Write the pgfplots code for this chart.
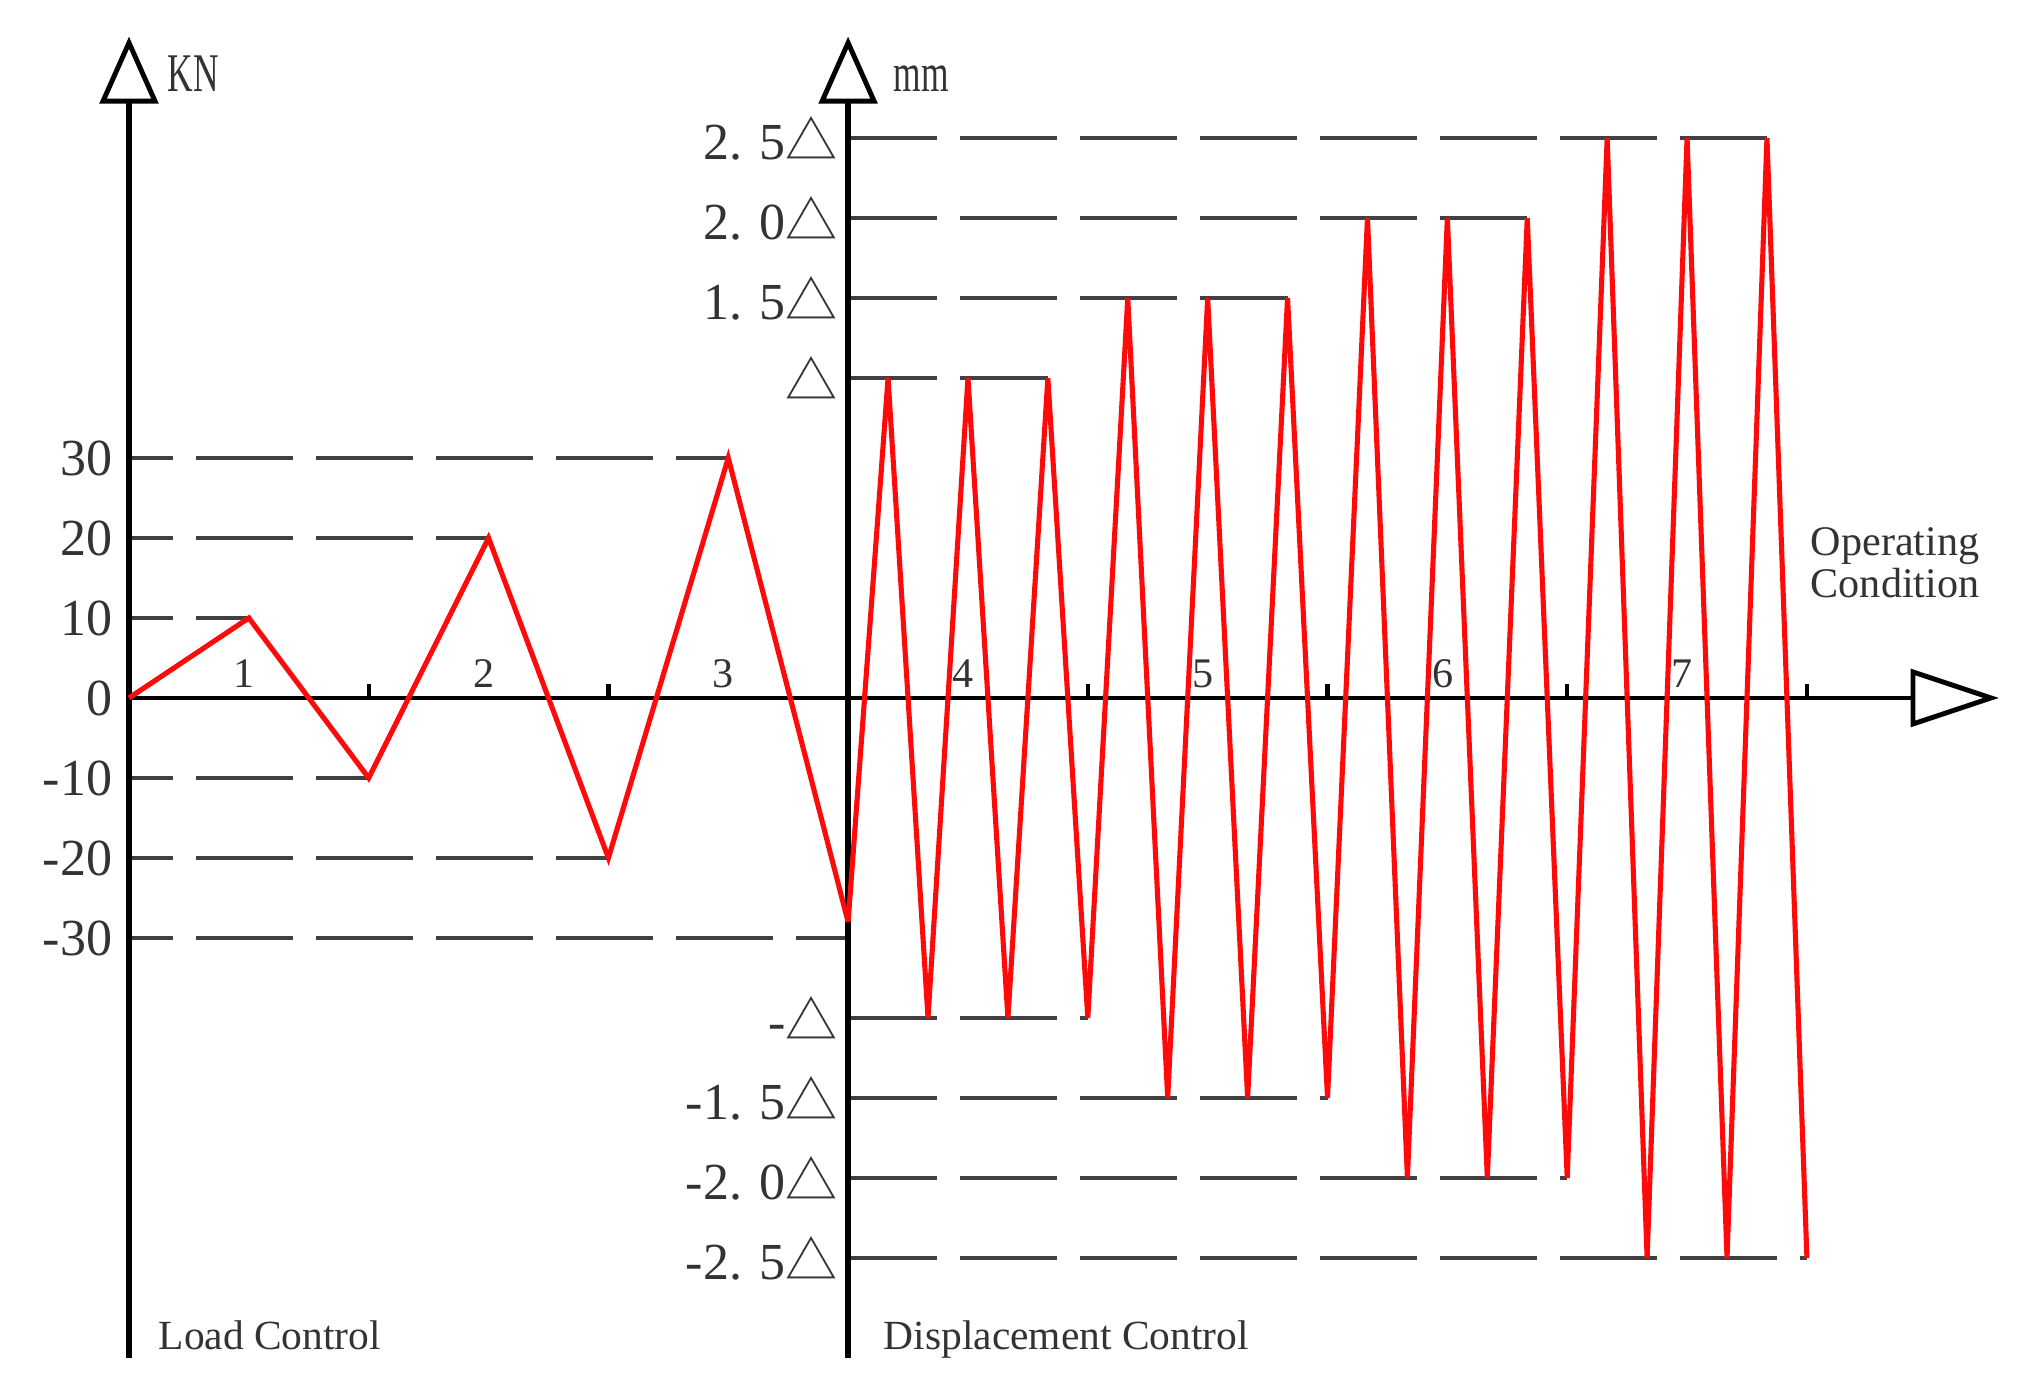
\documentclass[border=0pt]{standalone}
\usepackage{fontspec}
\setmainfont{Liberation Serif}
\newfontfamily\cjk{Noto Sans CJK SC}
\newfontfamily\cond{Liberation Serif}[FakeStretch=0.65]
\usepackage{pgfplots}
\pgfplotsset{compat=1.18}

\definecolor{guide}{HTML}{404040}
\definecolor{lbl}{HTML}{333333}
\definecolor{cycred}{HTML}{FF0A0A}

% x: one operating condition per unit, left axis at 0, right axis at 3
% y: kN; displacement levels drawn at 40 (D), 50 (1.5D), 60 (2.0D), 70 (2.5D)
\pgfplotsset{
  guideL/.style={color=guide, line width=1pt, dash pattern=on 9.7mm off 2.3mm, dash phase=5.3mm},
  guideR/.style={color=guide, line width=1pt, dash pattern=on 9.7mm off 2.3mm, dash phase=0.8mm},
}
\newcommand{\tri}{{\cjk △}}
\newcommand{\tickfont}{\fontsize{14.8}{15}\selectfont}

\begin{document}
\begin{tikzpicture}
\begin{axis}[
  width=202.4mm, height=138.6mm, scale only axis,
  xmin=-0.5382, xmax=7.9057, ymin=-86, ymax=87.25,
  hide axis, clip=false,
]
\coordinate (bl) at (rel axis cs:0,0);
\coordinate (tr) at (rel axis cs:1,1);

% guide lines, load control
\addplot[guideL] coordinates {(0,10) (0.5,10)};
\addplot[guideL] coordinates {(0,20) (1.5,20)};
\addplot[guideL] coordinates {(0,30) (2.5,30)};
\addplot[guideL] coordinates {(0,-10) (1,-10)};
\addplot[guideL] coordinates {(0,-20) (2,-20)};
\addplot[guideL] coordinates {(0,-30) (3,-30)};
% guide lines, displacement control
\addplot[guideR] coordinates {(3,40) (3.8333,40)};
\addplot[guideR] coordinates {(3,50) (4.8333,50)};
\addplot[guideR] coordinates {(3,60) (5.8333,60)};
\addplot[guideR] coordinates {(3,70) (6.8333,70)};
\addplot[guideR] coordinates {(3,-40) (4,-40)};
\addplot[guideR] coordinates {(3,-50) (5,-50)};
\addplot[guideR] coordinates {(3,-60) (6,-60)};
\addplot[guideR] coordinates {(3,-70) (7,-70)};

% axes
\draw[line width=1.7pt] (axis cs:0,-82.5) -- (axis cs:0,74.6);
\draw[line width=1.6pt] (axis cs:3,-82.5) -- (axis cs:3,74.6);
\draw[line width=1.4pt] (axis cs:0,0) -- (axis cs:7.4427,0);
\draw[line width=1.4pt, fill=white] (axis cs:-0.1085,74.6) -- (axis cs:0,81.9) -- (axis cs:0.1085,74.6) -- cycle;
\draw[line width=1.4pt, fill=white] (axis cs:2.8915,74.6) -- (axis cs:3,81.9) -- (axis cs:3.1085,74.6) -- cycle;
\draw[line width=1.4pt, fill=white] (axis cs:7.4427,3.25) -- (axis cs:7.768,0) -- (axis cs:7.4427,-3.25) -- cycle;
\draw[line width=1.2pt] (axis cs:1,0) -- (axis cs:1,1.75);
\draw[line width=1.2pt] (axis cs:2,0) -- (axis cs:2,1.75);
\draw[line width=1.2pt] (axis cs:4,0) -- (axis cs:4,1.75);
\draw[line width=1.2pt] (axis cs:5,0) -- (axis cs:5,1.75);
\draw[line width=1.2pt] (axis cs:6,0) -- (axis cs:6,1.75);
\draw[line width=1.2pt] (axis cs:7,0) -- (axis cs:7,1.75);

% load control
\addplot[color=cycred, line width=1.45pt] coordinates {
  (0,0) (0.5,10) (1,-10) (1.5,20) (2,-20) (2.5,30) (3,-28)
};
% displacement control
\addplot[color=cycred, line width=1.45pt] coordinates {
  (3,-28)
  (3.1667,40) (3.3333,-40) (3.5,40) (3.6667,-40) (3.8333,40) (4,-40)
  (4.1667,50) (4.3333,-50) (4.5,50) (4.6667,-50) (4.8333,50) (5,-50)
  (5.1667,60) (5.3333,-60) (5.5,60) (5.6667,-60) (5.8333,60) (6,-60)
  (6.1667,70) (6.3333,-70) (6.5,70) (6.6667,-70) (6.8333,70) (7,-70)
};

% left scale
\begin{scope}[every node/.style={anchor=east, inner sep=0pt, text=lbl, font=\tickfont, xshift=-1.6mm}]
\node at (axis cs:0,30) {30};
\node at (axis cs:0,20) {20};
\node at (axis cs:0,10) {10};
\node at (axis cs:0,0) {0};
\node at (axis cs:0,-10) {-10};
\node at (axis cs:0,-20) {-20};
\node at (axis cs:0,-30) {-30};
\end{scope}
% right scale
\begin{scope}[every node/.style={anchor=east, inner sep=0pt, text=lbl, font=\tickfont, xshift=-1.0mm}]
\node at (axis cs:3,70) {2. 5\tri};
\node at (axis cs:3,60) {2. 0\tri};
\node at (axis cs:3,50) {1. 5\tri};
\node at (axis cs:3,40) {\tri};
\node at (axis cs:3,-40) {-\tri};
\node at (axis cs:3,-50) {-1. 5\tri};
\node at (axis cs:3,-60) {-2. 0\tri};
\node at (axis cs:3,-70) {-2. 5\tri};
\end{scope}
% operating condition numbers
\begin{scope}[every node/.style={anchor=base, inner sep=0pt, text=lbl, font=\fontsize{12}{12}\selectfont}]
\node at (axis cs:0.48,1.25) {1};
\node at (axis cs:1.48,1.25) {2};
\node at (axis cs:2.48,1.25) {3};
\node at (axis cs:3.48,1.25) {4};
\node at (axis cs:4.48,1.25) {5};
\node at (axis cs:5.48,1.25) {6};
\node at (axis cs:6.48,1.25) {7};
\end{scope}

\node[anchor=base west, inner sep=0pt, text=lbl, font=\cond\fontsize{15.5}{16}\selectfont] at (axis cs:0.1585,75.75) {KN};
\node[anchor=base west, inner sep=0pt, text=lbl, font=\cond\fontsize{15.5}{16}\selectfont] at (axis cs:3.187,75.75) {mm};
\node[anchor=base west, inner sep=0pt, text=lbl, align=left, font=\fontsize{12}{10.2}\selectfont] at (axis cs:7.013,12.6) {Operating\\Condition};
\node[anchor=base west, inner sep=0pt, text=lbl, font=\fontsize{11.8}{12}\selectfont] at (axis cs:0.121,-81.4) {Load Control};
\node[anchor=base west, inner sep=0pt, text=lbl, font=\fontsize{11.8}{12}\selectfont] at (axis cs:3.146,-81.4) {Displacement Control};
\end{axis}
\pgfresetboundingbox
\path[use as bounding box] (bl) rectangle (tr);
\end{tikzpicture}
\end{document}
